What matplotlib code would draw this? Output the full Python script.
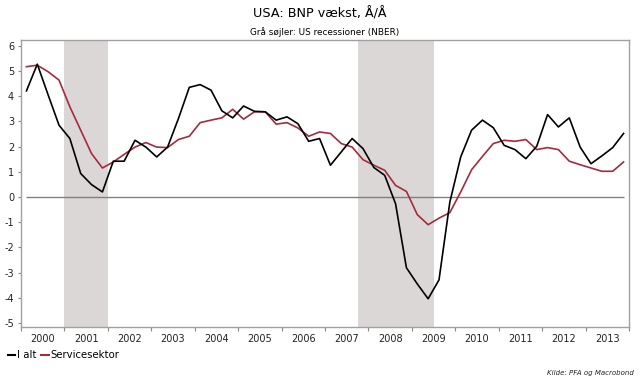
import numpy as np
import matplotlib
matplotlib.use("Agg")
import matplotlib.pyplot as plt
from matplotlib.lines import Line2D

years = list(range(2000, 2014))
year_labels = [str(y) for y in years]

i_alt = [4.21, 5.27, 4.05, 2.85, 2.32, 0.93, 0.49, 0.20,
         1.42, 1.42, 2.25, 1.98, 1.59, 1.98, 3.11, 4.35,
         4.46, 4.24, 3.42, 3.14, 3.61, 3.40, 3.38, 3.05,
         3.18, 2.91, 2.21, 2.32, 1.26, 1.79, 2.32, 1.92,
         1.17, 0.86, -0.27, -2.81, -3.45, -4.04, -3.29, -0.20,
         1.59, 2.65, 3.05, 2.75, 2.05, 1.88, 1.52, 2.01,
         3.27, 2.78, 3.14, 1.98, 1.32, 1.63, 1.96, 2.52]

service = [5.17, 5.23, 4.97, 4.64, 3.58, 2.65, 1.72, 1.15,
           1.39, 1.69, 1.98, 2.16, 1.98, 1.96, 2.28, 2.41,
           2.95, 3.05, 3.14, 3.48, 3.09, 3.38, 3.38, 2.89,
           2.95, 2.74, 2.41, 2.58, 2.52, 2.12, 1.98, 1.48,
           1.26, 1.06, 0.46, 0.22, -0.70, -1.10, -0.84, -0.62,
           0.20, 1.08, 1.61, 2.12, 2.25, 2.21, 2.28, 1.88,
           1.96, 1.88, 1.42, 1.28, 1.15, 1.02, 1.02, 1.39]

recessions = [(2001.0, 2002.0), (2007.75, 2009.5)]

quarters = 2000 + (np.arange(len(i_alt)) + 0.5) / 4.0

RED = "#a52a3c"

fig = plt.figure(figsize=(6.4, 3.82), dpi=100)
ax = fig.add_axes([21/640, 1 - 327/382, (629 - 21)/640, (327 - 40)/382])

for a, b in recessions:
    ax.axvspan(a, b, color="#dcd7d7", lw=0, zorder=0)

ax.hlines(0, quarters[0], quarters[-1], color="#808080", lw=1.0, zorder=1)
ax.plot(quarters, i_alt, color="#000000", lw=1.2, zorder=3)
ax.plot(quarters, service, color=RED, lw=1.2, zorder=2)

ax.set_xlim(2000, 2014)
ax.set_ylim(-5.16, 6.23)
ax.set_yticks(range(-5, 7))
ax.set_yticklabels([str(v) for v in range(-5, 7)])
ax.set_xticks(years + [2014])
ax.set_xticklabels([])
ax.set_xticks([y + 0.5 for y in years], minor=True)
ax.set_xticklabels(year_labels, minor=True)
ax.tick_params(axis="x", which="minor", length=0, labelsize=7, colors="#222222", pad=5)
ax.tick_params(axis="x", which="major", length=3, color="#888888", direction="out")
ax.tick_params(axis="y", length=2, color="#888888", labelsize=7, labelcolor="#222222", pad=3)
for s in ax.spines.values():
    s.set_color("#a0a0a0")
    s.set_linewidth(1.0)

fig.text(320/640, 1 - 14/382, "USA: BNP vækst, Å/Å", ha="center", va="center", fontsize=9.2)
fig.text(324.5/640, 1 - 32/382, "Grå søjler: US recessioner (NBER)", ha="center", va="center", fontsize=6.4)

ly = 1 - 355/382
fig.add_artist(Line2D([7.5/640, 15/640], [ly, ly], color="#000000", lw=1.5, transform=fig.transFigure))
fig.text(17/640, ly, "I alt", ha="left", va="center", fontsize=7.3, color="#000000")
fig.add_artist(Line2D([41/640, 48.5/640], [ly, ly], color=RED, lw=1.5, transform=fig.transFigure))
fig.text(50/640, ly, "Servicesektor", ha="left", va="center", fontsize=7.3, color="#000000")

fig.text(634/640, 1 - 373/382, "Kilde: PFA og Macrobond", ha="right", va="center",
         fontsize=5, style="italic", color="#222222")

fig.savefig("out.png", dpi=100)
